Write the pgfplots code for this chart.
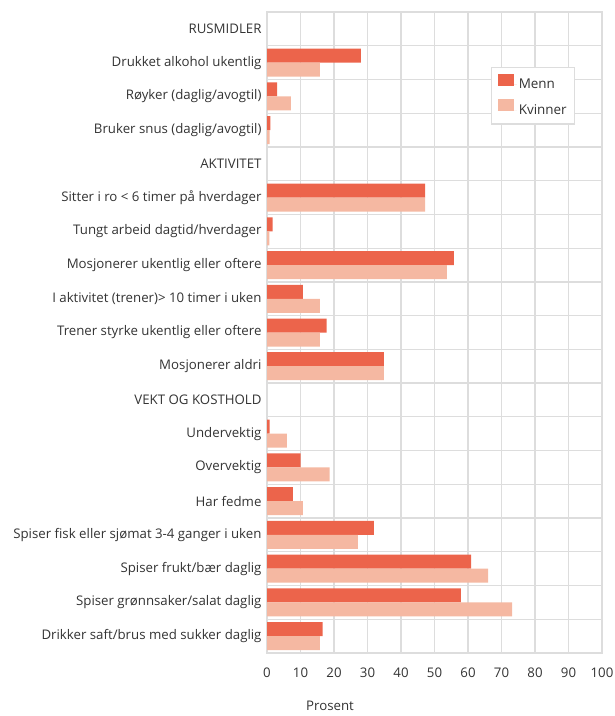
\documentclass[border=0pt]{standalone}
\usepackage{fontspec}
\setmainfont{Open Sans}
\usepackage{pgfplots}
\pgfplotsset{compat=1.18}
\definecolor{menn}{HTML}{EC644B}
\definecolor{kvinner}{HTML}{F5B8A2}
\definecolor{gridc}{HTML}{DDDDDD}
\definecolor{txt}{HTML}{333333}
\begin{document}
\begin{tikzpicture}
\path[use as bounding box] (0bp,0bp) rectangle (615bp,716bp);
\begin{axis}[
  at={(267bp,63bp)}, anchor=south west,
  scale only axis, width=335bp, height=641bp,
  xmin=0, xmax=100, ymin=-0.5, ymax=18.5, y dir=reverse,
  xbar=0pt, bar width=14bp,
  xtick={0,10,...,100},
  ytick={0,...,18},
  yticklabels={RUSMIDLER, Drukket alkohol ukentlig, Røyker (daglig/avogtil), Bruker snus (daglig/avogtil), AKTIVITET, Sitter i ro < 6 timer på hverdager, Tungt arbeid dagtid/hverdager, Mosjonerer ukentlig eller oftere, I aktivitet (trener)> 10 timer i uken, Trener styrke ukentlig eller oftere, Mosjonerer aldri, VEKT OG KOSTHOLD, Undervektig, Overvektig, Har fedme, Spiser fisk eller sjømat 3-4 ganger i uken, Spiser frukt/bær daglig, Spiser grønnsaker/salat daglig, Drikker saft/brus med sukker daglig},
  minor ytick={0.5,1.5,...,17.5},
  xmajorgrids, yminorgrids,
  grid style={gridc, line width=1.3bp},
  minor grid style={gridc, line width=1.3bp},
  axis line style={gridc, line width=1.3bp},
  major tick length=0pt, minor tick length=0pt,
  /pgf/number format/assume math mode=true,
  tick label style={font=\fontsize{13.3}{15}\selectfont, text=txt},
  yticklabel style={xshift=-2bp},
  xticklabel style={yshift=-11bp},
  xlabel={Prosent},
  every axis x label/.style={at={(rel axis cs:0.188,0)}, anchor=center, yshift=-53bp, font=\fontsize{13.3}{15}\selectfont, text=txt},
  legend style={at={(0.669,0.914)}, anchor=north west, draw=gridc, line width=1.3bp, fill=white,
    font=\fontsize{13.5}{15}\selectfont, text=txt, inner xsep=6bp, inner ysep=6bp, row sep=7bp},
  legend cell align=left,
  legend image code/.code={\fill[#1] (0bp,-1bp) rectangle (16bp,11bp); \path (0bp,0bp) -- (19bp,0bp);},
]
\addplot[draw=none, fill=menn, bar shift=7bp] coordinates {
(28,1) (3,2) (1,3) (47.2,5) (1.7,6) (55.8,7) (10.7,8) (17.8,9) (34.9,10)
(0.8,12) (10,13) (7.7,14) (31.9,15) (60.9,16) (57.9,17) (16.6,18)};
\addplot[draw=none, fill=kvinner, bar shift=-7bp] coordinates {
(15.8,1) (7.1,2) (0.8,3) (47.2,5) (0.7,6) (53.7,7) (15.8,8) (15.8,9) (34.9,10)
(5.9,12) (18.7,13) (10.7,14) (27.1,15) (66,16) (73.2,17) (15.8,18)};
\legend{Menn, Kvinner}
\end{axis}
\end{tikzpicture}
\end{document}
